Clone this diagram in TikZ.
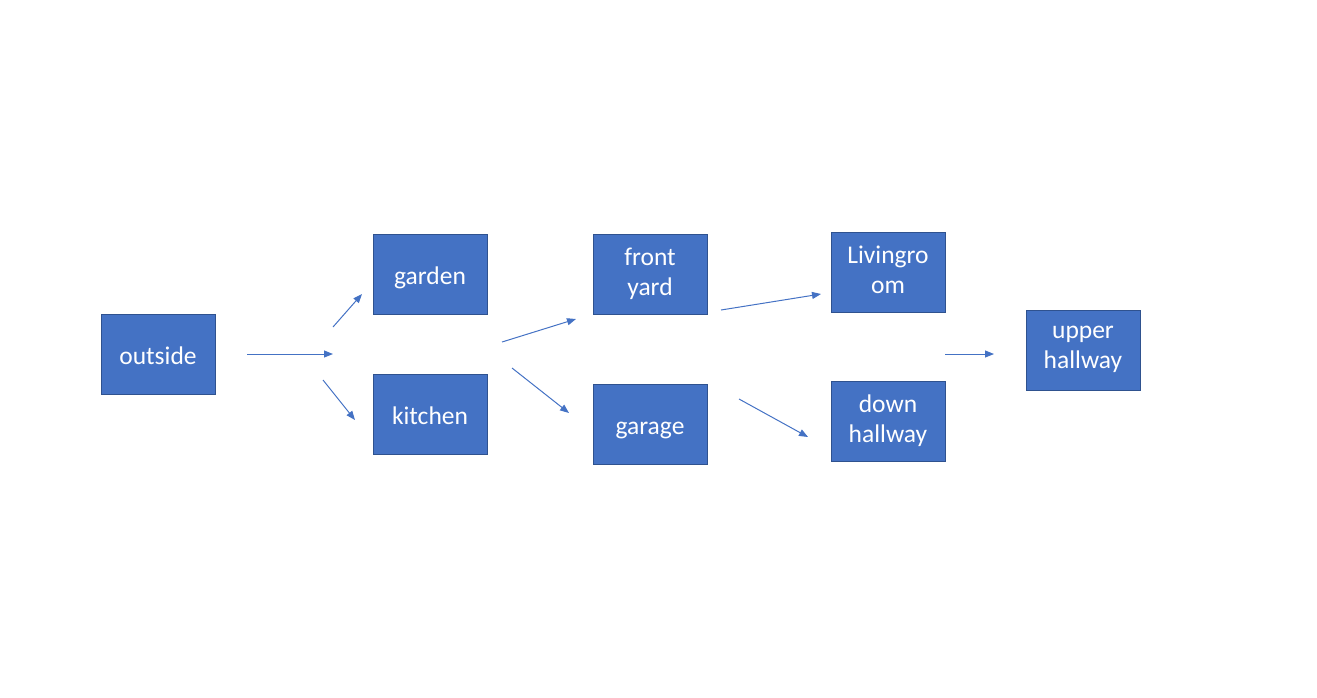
\documentclass[tikz,border=0pt]{standalone}
\usepackage{fontspec}
\setmainfont{Carlito}
\usetikzlibrary{arrows.meta}
\definecolor{boxfill}{HTML}{4472C4}
\definecolor{boxline}{HTML}{2F528F}
\newcommand{\roomstrut}{\rule[-5pt]{0pt}{30pt}}
\begin{document}
\begin{tikzpicture}[x=1pt,y=-1pt,
  room/.style={draw=boxline, line width=1pt, fill=boxfill, text=white,
    minimum width=114pt, minimum height=80pt, inner sep=0pt, align=center,
    font=\fontsize{25.5}{30}\selectfont,
    execute at begin node=\roomstrut, execute at end node=\roomstrut},
  link/.style={draw=boxfill, line width=1pt, -{Triangle[length=9pt,width=7pt]}}]
\useasboundingbox (0,0) rectangle (1317,697);
\node[room] (outside) at (158,354) {outside};
\node[room] (garden) at (430,274) {garden};
\node[room] (kitchen) at (430,414) {kitchen};
\node[room] (front) at (650,274) {front\\yard};
\node[room] (garage) at (650,424.5) {garage};
\node[room] (living) at (888,272) {Livingro\\om};
\node[room] (down) at (888,421) {down\\hallway};
\node[room] (upper) at (1083,350) {upper\\hallway};
\coordinate (a1s) at (247,354); \coordinate (a1e) at (333,354);
\coordinate (a2s) at (333,327); \coordinate (a2e) at (362,294);
\coordinate (a3s) at (323,380); \coordinate (a3e) at (355,420);
\coordinate (a4s) at (502,342); \coordinate (a4e) at (576,319);
\coordinate (a5s) at (512,368); \coordinate (a5e) at (569,413);
\coordinate (a6s) at (721,310); \coordinate (a6e) at (821,294);
\coordinate (a7s) at (739,399); \coordinate (a7e) at (808,437);
\coordinate (a8s) at (945,354); \coordinate (a8e) at (994,354);
\foreach \i in {1,...,8} {\draw[link] (a\i s) -- (a\i e);}
\end{tikzpicture}
\end{document}
